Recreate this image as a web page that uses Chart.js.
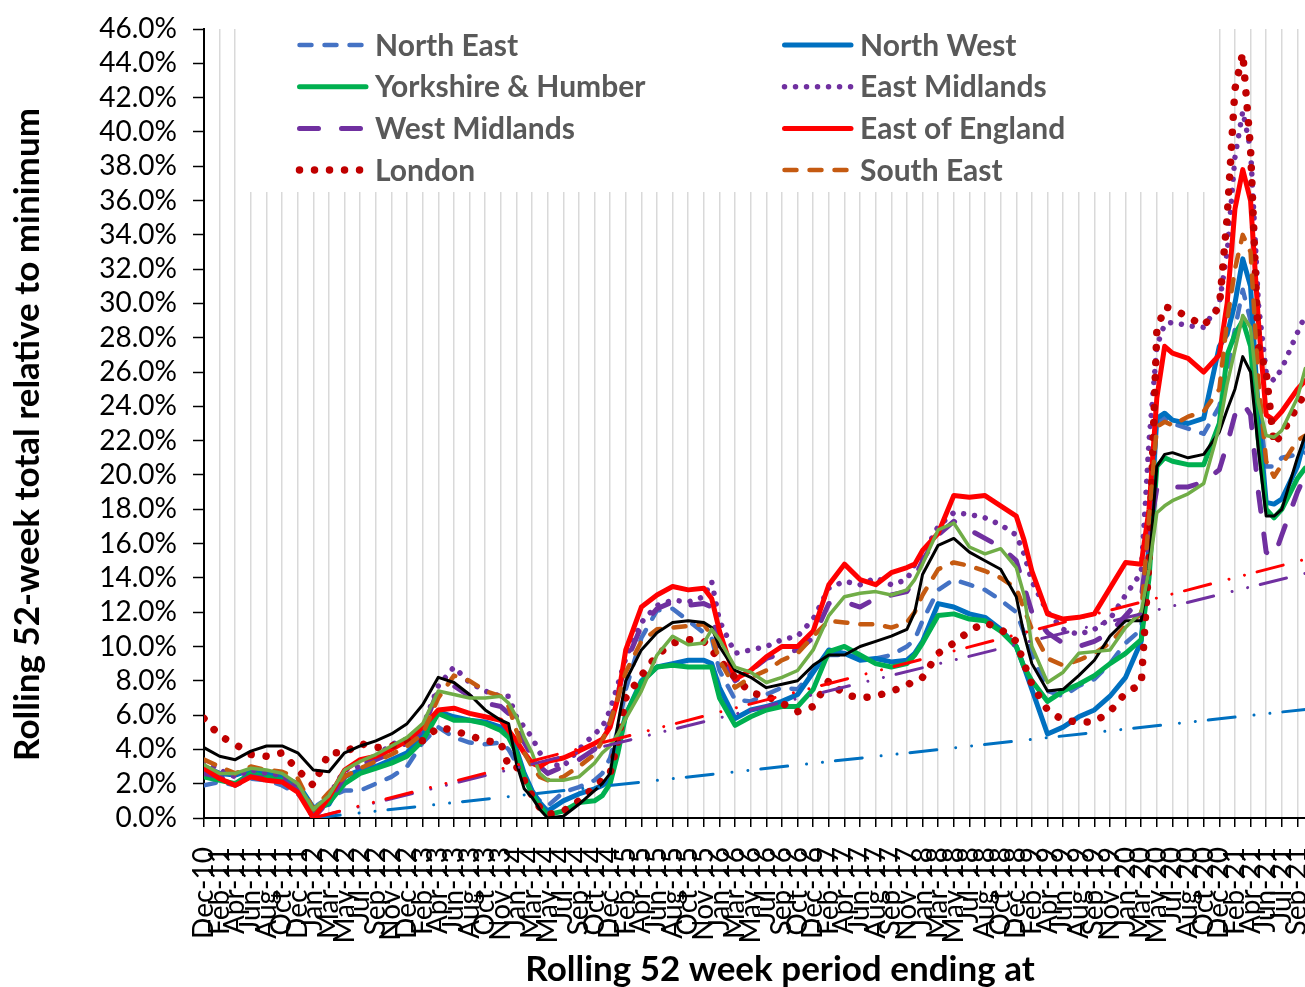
<!DOCTYPE html>
<html>
<head>
<meta charset="utf-8">
<script src="https://cdn.jsdelivr.net/npm/chart.js@4.4.1/dist/chart.umd.min.js"></script>
<style>
  html, body { margin: 0; padding: 0; background: #ffffff; overflow: hidden; }
  #wrap { position: relative; width: 1356px; height: 987px; }
</style>
</head>
<body>
<div id="wrap"><canvas id="c"></canvas></div>
<script>
// Tick labels every 8 weeks (week ending dates)
const tickLabels = ["Dec-10","Feb-11","Apr-11","Jun-11","Aug-11","Oct-11","Dec-11","Jan-12","Mar-12","May-12",
  "Jul-12","Sep-12","Nov-12","Dec-12","Feb-13","Apr-13","Jun-13","Aug-13","Oct-13","Nov-13",
  "Jan-14","Mar-14","May-14","Jul-14","Sep-14","Oct-14","Dec-14","Feb-15","Apr-15","Jun-15",
  "Aug-15","Oct-15","Nov-15","Jan-16","Mar-16","May-16","Jul-16","Sep-16","Oct-16","Dec-16",
  "Feb-17","Apr-17","Jun-17","Aug-17","Sep-17","Nov-17","Jan-18","Mar-18","May-18","Jul-18",
  "Aug-18","Oct-18","Dec-18","Feb-19","Apr-19","Jun-19","Aug-19","Sep-19","Nov-19","Jan-20",
  "Mar-20","May-20","Jul-20","Aug-20","Oct-20","Dec-20","Feb-21","Apr-21","Jun-21","Jul-21","Sep-21"];

// Sample positions (weeks since Dec-10)
const weeks = [0,8,16,24,32,40,48,56,64,72,80,88,96,104,112,120,128,136,144,152,
  156,160,164,168,172,176,184,192,200,204,208,212,216,224,232,240,248,256,260,264,
  272,280,288,296,304,312,320,328,336,344,352,360,364,368,376,384,392,400,408,416,
  420,424,432,440,448,456,464,472,480,484,488,492,496,504,512,520,524,528,532,536,
  540,544,548,552,560,564];

// Values (% relative to minimum)
const northEast = [1.9,2.1,1.9,2.3,2.2,1.9,1.4,0.6, 1.2,1.6,1.6,2.0,2.4,3.0,4.4,5.3,4.7,4.4,4.3,4.4,
  4.0,3.2,2.2,1.4,1.0,0.7,1.5,1.8,2.2, 2.6,3.5,5.2,7.5,10.5,12.1,12.2,11.5,10.8,10.5,8.6,
  6.9,6.8,7.2,7.6,7.5,8.6,9.5,9.5,9.4,9.3,9.5,10.0, 10.4,11.5,13.3,13.9,13.6,13.3,12.7,12.0,10.8,9.5,
  7.4,7.1,7.7,8.1,9.0,10.2,11.0, 17.5,23.0,23.3,23.0,22.7,22.4,24.0,26.0,28.5,30.8,29.0,24.0,20.5,20.5,21.0,21.2,21.3];
const northWest = [3.0,2.6,2.5,2.8,2.6,2.4,2.0,0.6, 0.8,2.4,2.8,3.0,3.4,3.8,4.9,6.2,5.9,5.7,5.6,5.3,
  4.9,4.0,2.6,1.6,0.9,0.4,1.0,1.4,1.7, 1.9,2.2,4.3,6.0,8.0,8.8,9.0,9.2,9.2,9.0,7.6,
  5.8,6.3,6.5,6.8,7.2,8.5,9.8,9.6,9.2,9.3,9.1,9.2, 9.6,10.3,12.5,12.3,11.9,11.7,11.0,10.0,8.8,7.5,
  4.9,5.3,5.9,6.3,7.1,8.2,10.3, 16.0,23.3,23.6,23.2,23.0,23.3,27.5,28.2,30.0,32.6,31.0,23.5,18.4,18.3,18.6,20.5,22.2];
const yorkshireHumber = [2.4,2.2,2.0,2.6,2.4,2.2,1.7,0.3, 0.9,2.0,2.6,2.9,3.2,3.6,4.5,6.1,5.7,5.7,5.5,5.1,
  4.7,3.8,2.4,1.4,0.7,0.2,0.4,0.9,1.0, 1.3,2.0,3.8,6.0,7.9,8.8,8.9,8.8,8.8,8.8,7.0,
  5.4,5.9,6.3,6.5,6.5,7.5,9.7,10.0,9.5,9.0,8.8,9.0, 9.5,10.2,11.8,11.9,11.6,11.5,10.9,10.0,8.8,8.0,
  6.8,7.4,7.8,8.3,9.0,9.6,10.4, 14.0,20.5,21.0,20.8,20.6,20.6,23.0,27.0,28.2,29.0,27.5,22.0,18.0,17.5,18.0,19.8,20.4];
const eastMidlands = [3.3,2.8,2.4,2.8,2.6,2.5,1.9,0.0, 1.3,2.8,3.0,3.6,4.3,4.6,5.3,7.7,8.8,7.9,7.4,7.1,
  7.1,5.9,5.3,4.7,3.8,3.2,3.0,4.0,4.9, 5.3,6.3,7.8,9.3,11.4,12.4,12.7,12.6,12.9,13.8,11.5,
  9.6,9.8,10.0,10.4,10.6,11.6,13.4,13.8,13.6,14.0,13.6,13.9, 14.8,15.3,17.0,17.8,17.7,17.5,17.1,16.5,15.4,13.8,
  12.0,11.0,10.7,11.0,11.6,13.0,14.3, 22.0,27.5,28.8,28.9,28.7,28.6,30.0,33.0,38.5,41.2,39.0,30.0,26.0,25.5,26.2,28.3,29.3];
const westMidlands = [2.6,2.4,2.0,2.4,2.3,2.2,1.6,0.0, 1.0,2.4,3.0,3.4,3.8,4.4,5.1,7.5,7.7,7.1,6.7,6.5,
  6.1,5.3,4.4,3.6,3.0,2.6,3.0,3.4,4.0, 4.6,5.6,7.3,9.0,11.2,12.2,12.6,12.4,12.5,12.3,9.5,
  8.0,8.6,9.3,9.6,9.8,10.5,12.5,12.6,12.3,12.8,13.0,13.2, 14.0,15.0,16.5,17.3,16.8,16.3,15.8,15.0,13.5,12.0,
  10.8,10.2,10.0,10.3,10.8,11.8,12.8, 16.5,19.2,19.4,19.3,19.3,19.6,20.3,21.8,23.5,24.2,23.5,19.0,15.5,15.2,16.5,19.0,20.0];
const eastOfEngland = [2.9,2.3,1.9,2.4,2.2,2.1,1.5,0.0, 1.2,2.8,3.4,3.6,4.0,4.5,5.3,6.3,6.4,6.1,5.9,5.7,
  5.1,4.5,3.8,3.2,3.0,3.3,3.5,3.9,4.35, 4.6,5.3,7.0,9.8,12.3,13.0,13.5,13.3,13.4,12.8,10.9,
  8.1,8.6,9.4,10.0,10.0,10.9,13.6,14.8,13.9,13.6,14.3,14.6, 14.8,15.6,16.6,18.8,18.7,18.8,18.2,17.6,16.2,14.4,
  11.9,11.6,11.7,11.9,13.4,14.9,14.8, 18.0,24.5,27.5,27.1,26.8,26.0,27.0,30.0,35.5,37.8,36.0,29.0,23.5,23.2,23.7,25.0,25.5];
const london = [5.8,4.8,4.3,3.7,3.6,3.8,2.8,1.9, 3.8,3.8,4.35,4.1,4.2,4.5,4.5,5.3,5.1,4.8,4.5,4.4,
  3.0,3.0,2.2,1.3,0.6,0.2,0.4,1.0,1.8, 2.2,2.6,4.5,7.0,8.3,9.5,10.2,10.4,10.3,9.8,9.2,
  8.2,7.3,7.1,6.7,6.2,6.5,8.0,7.2,7.0,7.1,7.4,7.7, 8.1,8.2,9.6,10.2,10.9,11.4,11.0,10.3,9.0,7.8,
  6.3,5.7,5.6,5.6,6.2,7.3,7.8, 15.0,28.4,29.8,29.7,29.2,28.7,29.8,35.0,42.5,44.6,39.0,27.5,26.0,21.8,22.4,24.0,24.8];
const southEast = [3.4,3.0,2.6,3.0,2.8,2.7,2.3,0.5, 1.5,2.4,2.9,3.3,3.7,4.2,4.9,7.0,8.3,8.0,7.4,7.1,
  6.5,5.1,3.8,3.0,2.4,2.2,2.4,3.0,3.7, 4.5,5.6,7.0,8.5,10.3,11.0,11.1,11.2,11.3,10.6,9.2,
  7.6,8.2,8.6,9.2,9.6,10.6,11.5,11.4,11.3,11.3,11.1,11.4, 12.0,13.0,14.5,14.9,14.7,14.4,14.0,13.4,12.2,11.0,
  9.3,8.9,9.2,9.6,10.2,11.2,11.9, 17.5,22.8,23.1,22.9,23.4,23.7,25.0,29.0,32.0,34.0,33.0,25.5,20.8,19.9,20.6,22.0,22.3];
const unlabelledBlack = [4.1,3.6,3.4,3.9,4.2,4.2,3.8,2.8, 2.7,3.8,4.2,4.5,4.9,5.5,6.6,8.2,7.9,7.2,6.3,5.7,
  5.5,3.2,1.7,1.2,0.5,0.0,0.1,0.8,1.6, 2.0,2.6,5.5,8.0,9.8,10.8,11.4,11.5,11.4,11.1,10.0,
  8.6,8.2,7.6,7.8,8.0,8.9,9.5,9.5,10.0,10.3,10.6,11.0, 12.0,14.2,15.9,16.3,15.5,15.0,14.5,12.9,10.7,9.0,
  7.4,7.5,8.3,9.2,10.6,11.5,11.5, 14.6,20.5,21.2,21.3,21.0,21.2,22.5,23.8,25.0,26.9,26.0,21.5,17.6,17.6,18.0,21.0,22.3];
const unlabelledGreen = [3.1,2.6,2.6,2.9,2.8,2.6,2.0,0.5, 1.3,2.8,3.3,3.7,4.2,4.7,5.5,7.4,7.2,7.0,7.0,7.1,
  6.7,5.9,4.7,3.8,2.6,2.2,2.2,2.4,3.2, 3.8,4.2,4.9,5.8,7.4,9.5,10.6,10.1,10.2,11.0,10.4,
  8.8,8.5,7.9,8.2,8.6,9.8,11.8,12.9,13.1,13.2,13.0,13.3, 13.9,14.8,16.8,17.2,15.8,15.4,15.7,14.6,13.0,10.0,
  7.9,8.5,9.6,9.7,9.8,11.1,12.0, 14.5,17.8,18.2,18.5,18.9,19.5,22.8,25.3,27.3,29.3,28.6,24.2,22.3,22.2,22.6,24.5,26.2];

// Trend lines from the minimum (week, value)
const trendWeeks = [56, 564];
const trendEastOfEngland = [0, 15.08];
const trendWestMidlands = [0, 14.26];
const trendNorthWest = [0, 6.33];

const yTitleText = 'Rolling 52-week total relative to minimum';
const xTitleText = 'Rolling 52 week period ending at';

const toPts = (xs, ys) => ys.map((v, i) => ({ x: xs[i], y: v }));

const seriesDefs = [
  { label: 'North East', data: northEast, color: '#4472C4', width: 4.5, dash: [12, 13], legend: true },
  { label: 'North West', data: northWest, color: '#0070C0', width: 5, dash: [], legend: true },
  { label: 'Yorkshire & Humber', data: yorkshireHumber, color: '#00B050', width: 5, dash: [], legend: true },
  { label: 'East Midlands', data: eastMidlands, color: '#7030A0', width: 5.5, dash: [0.01, 11], legend: true },
  { label: 'West Midlands', data: westMidlands, color: '#7030A0', width: 5, dash: [19, 23], legend: true },
  { label: 'East of England', data: eastOfEngland, color: '#FF0000', width: 5, dash: [], legend: true },
  { label: 'London', data: london, color: '#C00000', width: 7.5, dash: [0.01, 15], legend: true },
  { label: 'South East', data: southEast, color: '#C55A11', width: 4.5, dash: [12, 13], legend: true },
  { label: 'Unlabelled 1', data: unlabelledBlack, color: '#000000', width: 3, dash: [], legend: false },
  { label: 'Unlabelled 2', data: unlabelledGreen, color: '#70AD47', width: 3.5, dash: [], legend: false }
];
const trendDefs = [
  { label: 'Trend NW', data: trendNorthWest, color: '#0070C0' },
  { label: 'Trend WM', data: trendWestMidlands, color: '#7030A0' },
  { label: 'Trend EE', data: trendEastOfEngland, color: '#FF0000' }
];

const N = seriesDefs.length + trendDefs.length;
const datasets = [];
seriesDefs.forEach((s, i) => datasets.push({
  label: s.label, data: toPts(weeks, s.data), borderColor: s.color, backgroundColor: s.color,
  borderWidth: s.width, borderDash: s.dash, borderCapStyle: 'round', borderJoinStyle: 'round',
  pointRadius: 0, fill: false, tension: 0, order: N - i, showInLegend: s.legend
}));
trendDefs.forEach((t, j) => datasets.push({
  label: t.label, data: toPts(trendWeeks, t.data), borderColor: t.color, backgroundColor: t.color,
  borderWidth: 3, borderDash: [27, 19, 0.01, 16, 0.01, 13], borderCapStyle: 'round',
  pointRadius: 0, fill: false, tension: 0, order: trendDefs.length - j, showInLegend: false
}));

const boxLegend = {
  id: 'boxLegend',
  beforeDatasetsDraw(chart) {
    const { ctx, chartArea: a } = chart;
    const L = a.left, T = a.top;
    ctx.save();
    ctx.fillStyle = '#ffffff';
    ctx.fillRect(L + 40, T - 2, 969, 165);
    const items = chart.data.datasets.filter(d => d.showInLegend);
    ctx.font = 'bold 30px Lato';
    ctx.textBaseline = 'middle';
    ctx.textAlign = 'left';
    items.forEach((d, i) => {
      const col = i % 2, row = Math.floor(i / 2);
      const x = L + (col ? 578 : 93);
      const y = T + 16 + row * 41.7;
      ctx.beginPath();
      ctx.setLineDash(d.borderDash || []);
      ctx.lineCap = 'round';
      ctx.lineWidth = d.borderWidth;
      ctx.strokeStyle = d.borderColor;
      ctx.moveTo(x + 2.5, y);
      ctx.lineTo(x + 69, y);
      ctx.stroke();
      ctx.setLineDash([]);
      ctx.fillStyle = '#595959';
      ctx.fillText(d.label, x + 78, y + 1);
    });
    ctx.restore();
  }
};

const yTitle = {
  id: 'yTitle',
  afterDraw(chart) {
    const { ctx, chartArea: a } = chart;
    ctx.save();
    ctx.translate(28, (a.top + a.bottom) / 2 + 11);
    ctx.rotate(-Math.PI / 2);
    ctx.font = 'bold 35px Lato';
    ctx.fillStyle = '#000';
    ctx.textAlign = 'center';
    ctx.textBaseline = 'middle';
    ctx.fillText(yTitleText, 0, 0);
    ctx.restore();
  }
};

Chart.defaults.font.family = 'Lato';
new Chart(document.getElementById('c'), {
  type: 'line',
  data: { datasets },
  plugins: [boxLegend, yTitle],
  options: {
    responsive: true,
    maintainAspectRatio: false,
    animation: false,
    devicePixelRatio: 1,
    layout: { padding: { top: 29, left: 0, right: 0, bottom: 0 } },
    plugins: { legend: { display: false }, tooltip: { enabled: false } },
    scales: {
      x: {
        type: 'linear', min: 0, max: 590,
        ticks: {
          stepSize: 8, autoSkip: false, maxRotation: 90, minRotation: 90, includeBounds: false,
          color: '#000', font: { family: 'Lato', size: 28 }, padding: 20,
          callback: v => (v % 8 === 0 && tickLabels[v / 8] !== undefined) ? tickLabels[v / 8] : ''
        },
        grid: { color: '#d9d9d9', lineWidth: 1.5, tickColor: '#000', tickLength: 9, tickWidth: 1.5 },
        border: { color: '#000', width: 2 },
        title: { display: true, text: xTitleText, color: '#000',
          font: { family: 'Lato', size: 35, weight: 'bold', lineHeight: 1 }, padding: { top: 0, bottom: 0 } },
        afterFit: s => { s.height = 169; s.paddingRight = 0; s.paddingLeft = 0; }
      },
      y: {
        min: 0, max: 46,
        ticks: { stepSize: 2, autoSkip: false, color: '#000', font: { family: 'Lato', size: 28 }, padding: 16,
          callback: v => v.toFixed(1) + '%' },
        grid: { drawOnChartArea: false, tickColor: '#000', tickLength: 11, tickWidth: 1.5 },
        border: { color: '#000', width: 2 },
        title: { display: false },
        afterFit: s => { s.width = 204; s.paddingTop = 0; s.paddingBottom = 0; }
      }
    }
  }
});
</script>
</body>
</html>
